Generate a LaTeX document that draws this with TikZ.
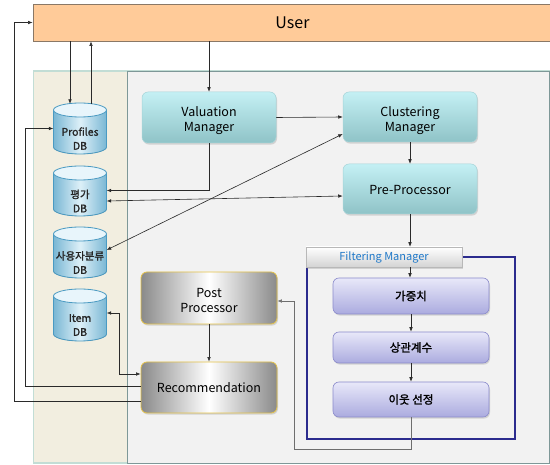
\documentclass[tikz,border=0pt]{standalone}
\usepackage{fontspec}
\setmainfont{Noto Sans CJK KR}[AutoFakeBold=1.6]
\usetikzlibrary{arrows.meta,shadows}

\definecolor{userfill}{HTML}{FFCB99}
\definecolor{userline}{HTML}{8A7866}
\definecolor{beige}{HTML}{F2EEE0}
\definecolor{beigeline}{HTML}{C2DDD5}
\definecolor{panel}{HTML}{F2F2F2}
\definecolor{panelline}{HTML}{7E9898}
\definecolor{mgrtop}{HTML}{C4F0F4}
\definecolor{mgrbot}{HTML}{8FC3C7}
\definecolor{mgrline}{HTML}{A6D4D8}
\definecolor{subtop}{HTML}{E8E8F9}
\definecolor{subbot}{HTML}{ABABDF}
\definecolor{subline}{HTML}{8A8ACB}
\definecolor{procgray}{HTML}{8A8A8A}
\definecolor{procline}{HTML}{E4C248}
\definecolor{navy}{HTML}{2C2C8E}
\definecolor{tabtext}{HTML}{1F78C8}
\definecolor{dbedge}{HTML}{7AB7D4}
\definecolor{dbmid}{HTML}{DDF0F8}
\definecolor{dbtop}{HTML}{E8F5FB}
\definecolor{dbline}{HTML}{4A9AC2}
\definecolor{linec}{HTML}{2A2A2A}
\definecolor{linegray}{HTML}{6E6E6E}

% invisible strut that pushes a node's text block down
\newcommand\pushdown[1]{\rule{0pt}{#1}}

\tikzset{
  tip/.tip={Latex[length=4.5pt,width=3.6pt]},
  conn/.style={draw=linec, line width=0.6pt, -tip},
  biconn/.style={draw=linec, line width=0.6pt, tip-tip},
  softshadow/.style={drop shadow={opacity=0.28, shadow xshift=1pt, shadow yshift=-1.6pt}},
  mgr/.style={rounded corners=6pt, top color=mgrtop, bottom color=mgrbot,
    draw=mgrline, line width=0.5pt, align=center, softshadow,
    minimum width=134pt, font=\fontsize{12.5}{15}\selectfont},
  subbox/.style={rounded corners=6pt, top color=subtop, bottom color=subbot,
    draw=subline, line width=0.6pt, align=center, softshadow,
    minimum width=156pt, font=\fontsize{11.5}{13}\selectfont\bfseries},
  proc/.style={rounded corners=6pt, left color=procgray, right color=procgray,
    middle color=white, draw=procline, line width=0.8pt, align=center, softshadow,
    minimum width=136pt, font=\fontsize{12.5}{15}\selectfont},
  tabbox/.style={top color=white, bottom color=black!17, draw=black!28,
    line width=0.5pt, softshadow, minimum width=156pt, minimum height=20pt,
    text=tabtext, font=\fontsize{11}{12}\selectfont},
  dbbox/.style={minimum width=53pt, inner sep=0pt},
  dbtext/.style={align=center, inner sep=0pt,
    font=\fontsize{10.5}{14}\selectfont\bfseries, text=black!85},
}

% database cylinder: name, centre x, top y, bottom y, label
\newcommand\dbcyl[5]{%
  \fill[left color=dbedge, right color=dbedge, middle color=dbmid]
    ({#2-26.5},{#3+7}) -- ({#2-26.5},{#4-7})
    arc[start angle=180, end angle=360, x radius=26.5pt, y radius=7pt]
    -- ({#2+26.5},{#3+7}) -- cycle;
  \draw[dbline, line width=0.8pt]
    ({#2-26.5},{#3+7}) -- ({#2-26.5},{#4-7})
    arc[start angle=180, end angle=360, x radius=26.5pt, y radius=7pt]
    -- ({#2+26.5},{#3+7});
  \filldraw[fill=dbtop, draw=dbline, line width=0.8pt]
    (#2,{#3+7}) ellipse[x radius=26.5pt, y radius=7pt];
  \node[dbbox, minimum height={#4-#3}] (#1) at (#2,{(#3+#4)/2}) {};
  \node[dbtext] at (#2,{(#3+#4)/2+10}) {#5};
}

\begin{document}
\begin{tikzpicture}[x=1pt, y=-1pt]
\useasboundingbox (0,0) rectangle (550,465);

% panels
\filldraw[fill=beige, draw=beigeline, line width=1.5pt] (33.5,71) rectangle (549,463);
\filldraw[fill=panel, draw=panelline, line width=0.9pt] (127,71) rectangle (549,463);

% user bar
\node[draw=userline, fill=userfill, line width=0.8pt, minimum width=519pt,
      minimum height=37pt, font=\fontsize{16}{18}\selectfont] (user) at (292.5,22.5) {User};

% filtering manager frame
\draw[navy, line width=1.7pt] (307,257) rectangle (515,439);

% databases
\dbcyl{profiles}{80}{103}{154}{Profiles\\DB}
\dbcyl{peval}{80}{166}{216}{평가\\DB}
\dbcyl{puser}{80}{227}{278}{사용자분류\\DB}
\dbcyl{item}{80}{289}{341}{Item\\DB}

% processing blocks
\node[mgr, minimum height=51pt] (valuation) at (209,117.5) {\pushdown{17pt}Valuation\\Manager};
\node[mgr, minimum height=50pt] (clustering) at (410,117) {\pushdown{17pt}Clustering\\Manager};
\node[mgr, minimum height=50pt] (pre) at (410,189) {\pushdown{12pt}Pre-Processor};
\node[tabbox] (tab) at (384,257) {Filtering Manager};
\node[subbox, minimum height=36pt] (weight) at (411,296) {가중치};
\node[subbox, minimum height=31pt] (corr) at (411,347.5) {상관계수};
\node[subbox, minimum height=35pt] (neigh) at (411,399.5) {이웃 선정};
\node[proc, minimum height=52pt] (post) at (209,298) {\pushdown{15pt}Post\\Processor};
\node[proc, minimum height=51pt] (rec) at (209,387.5) {\pushdown{11pt}Recommendation};

% connectors
\draw[conn] (user.south -| valuation.north) -- (valuation.north);
\draw[conn] ([xshift=-10pt]profiles.north |- user.south) -- ([xshift=-10pt,yshift=-1pt]profiles.north);
\draw[conn] ([xshift=11pt,yshift=-1pt]profiles.north) -- ([xshift=11pt]profiles.north |- user.south);
\draw[conn] ([yshift=-13.5pt]rec.west) -- ++(-126,0) |- (user.west);
\draw[conn] ([yshift=1.5pt]rec.west) -- ++(-115,0) |- (profiles.west);
\draw[biconn] ([yshift=2pt]item.east) -- ++(12.5,0) |- ([yshift=13.5pt]rec.west);
\draw[conn] (valuation.south) |- ([yshift=0.5pt]peval.east);
\draw[biconn] ([yshift=-10pt]peval.east) -- ([yshift=-7pt]pre.west);
\draw[conn] (valuation.east) -- (clustering.west);
\draw[biconn] ([yshift=-17pt]clustering.west) -- ([yshift=2.5pt]puser.east);
\draw[conn] (clustering.south) -- (pre.north);
\draw[conn] (pre.south) -- (pre.south |- tab.north);
\draw[conn] (pre.south |- tab.south) -- (pre.south |- weight.north);
\draw[conn] (weight.south) -- (corr.north);
\draw[conn] (corr.south) -- (neigh.north);
\draw[conn, draw=linegray] (neigh.south) -- ++(0,32) -| ([xshift=17pt,yshift=-3pt]post.east) -- ([yshift=-3pt]post.east);
\draw[conn] (post.south) -- (rec.north);
\end{tikzpicture}
\end{document}
